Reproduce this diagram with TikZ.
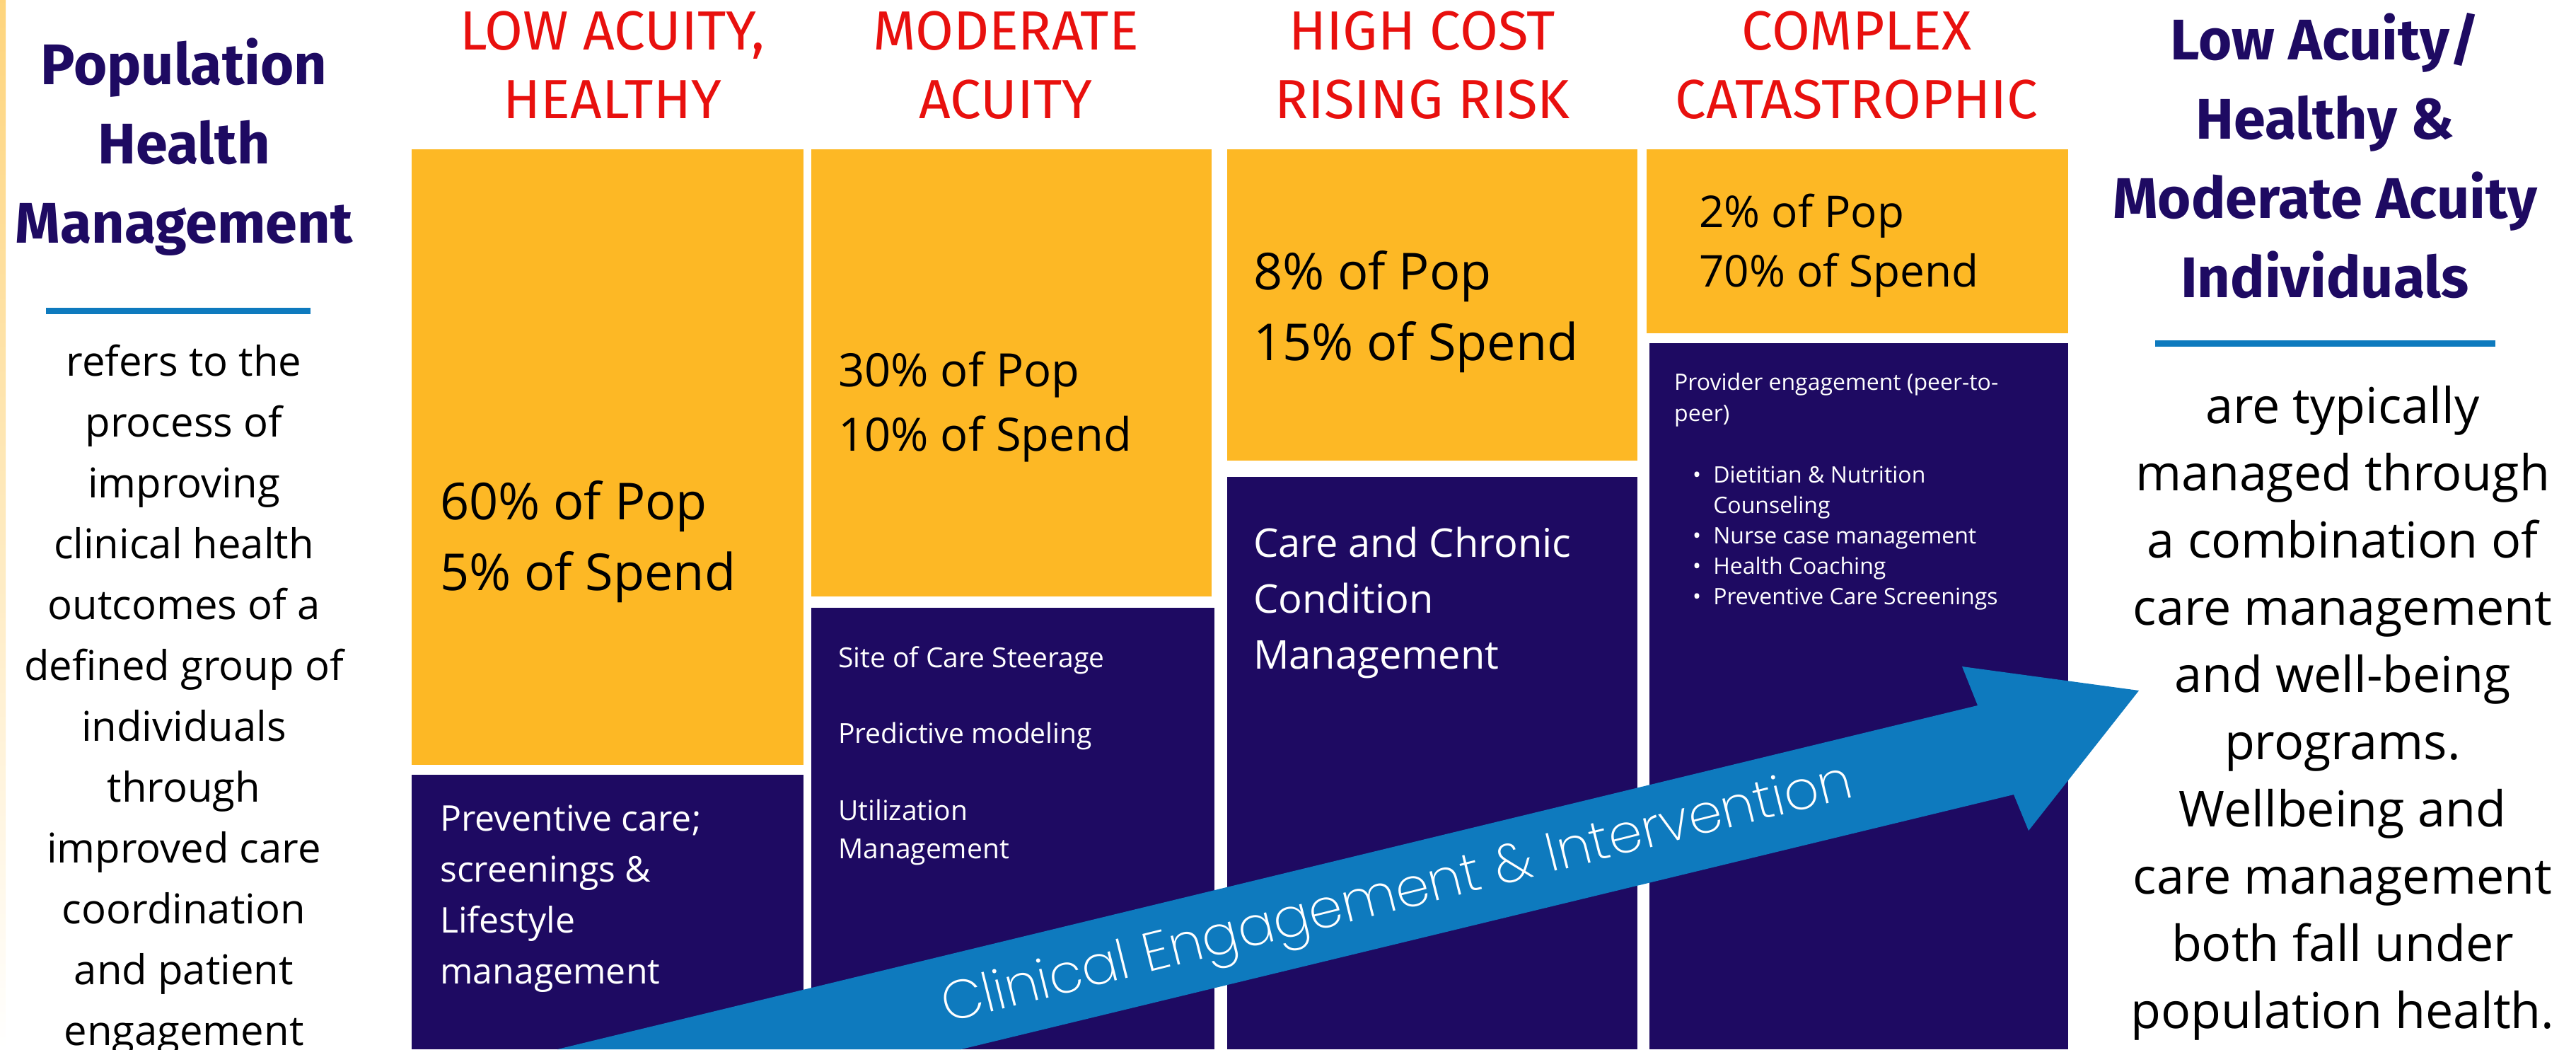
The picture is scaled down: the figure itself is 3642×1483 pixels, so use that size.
\documentclass[tikz,border=0pt]{standalone}
\usepackage{fontspec}
\setmainfont{Open Sans}
\newfontfamily\headfont{Fira Sans}
\newfontfamily\bannerfont{Poppins}[UprightFont=* ExtraLight]

\definecolor{popyellow}{HTML}{FDB825}
\definecolor{popnavy}{HTML}{1E0A62}
\definecolor{popblue}{HTML}{0E7ABE}
\definecolor{popred}{HTML}{E8100E}

\tikzset{
  colhead/.style={text=popred, align=center, inner sep=0pt,
    font=\headfont\fontsize{78}{97}\selectfont},
  sidetitle/.style={text=popnavy, align=center, inner sep=0pt,
    font=\headfont\bfseries\fontsize{81}{112}\selectfont},
  sidebody/.style={text=black, align=center, inner sep=0pt},
  share/.style={text=black, align=left, inner sep=0pt, anchor=west},
  program/.style={text=white, align=left, inner sep=0pt, anchor=west},
  rule/.style={popblue, line width=9pt}
}

\begin{document}
\begin{tikzpicture}[x=1pt,y=-1pt]
  \useasboundingbox (0,0) rectangle (3642,1483);

  % Edge strip
  \shade[top color=popyellow!60, bottom color=white] (0,0) rectangle (8,1483);

  % Yellow boxes
  \fill[popyellow] (582,211) rectangle (1136,1081);
  \fill[popyellow] (1147,211) rectangle (1713,843);
  \fill[popyellow] (1735,211) rectangle (2315,651);
  \fill[popyellow] (2328,211) rectangle (2924,471);

  % Navy boxes
  \fill[popnavy] (582,1095) rectangle (1136,1483);
  \fill[popnavy] (1147,859) rectangle (1717,1483);
  \fill[popnavy] (1735,674) rectangle (2315,1483);
  \fill[popnavy] (2332,485) rectangle (2924,1483);

  % Column heads
  \node[colhead] (headlow) at (866,92) {LOW ACUITY,\\HEALTHY};
  \node[colhead] (headmod) at (1422,92) {MODERATE\\ACUITY};
  \node[colhead] (headhigh) at (2011,92) {HIGH COST\\RISING RISK};
  \node[colhead] (headcomplex) at (2625,92) {COMPLEX\\CATASTROPHIC};

  % Share of population and spend
  \node[share, font=\fontsize{72}{100}\selectfont] (sharelow) at (622,766)
    {60\% of Pop\\5\% of Spend};
  \node[share, font=\fontsize{65}{91}\selectfont] (sharemod) at (1185,575)
    {30\% of Pop\\10\% of Spend};
  \node[share, font=\fontsize{72}{100}\selectfont] (sharehigh) at (1772,441)
    {8\% of Pop\\15\% of Spend};
  \node[share, font=\fontsize{62}{84}\selectfont] (sharecomplex) at (2402,347)
    {2\% of Pop\\70\% of Spend};

  % Programs
  \node[program, font=\fontsize{50}{72}\selectfont] (proglow) at (622,1270)
    {Preventive care;\\screenings \&\\Lifestyle\\management};
  \node[program, font=\fontsize{39}{54}\selectfont] (progmod) at (1185,1068)
    {Site of Care Steerage\\[53pt]Predictive modeling\\[55pt]Utilization\\Management};
  \node[program, font=\fontsize{56}{79}\selectfont] (proghigh) at (1772,852)
    {Care and Chronic\\Condition\\Management};
  \node[program, font=\fontsize{32}{44}\selectfont] (progpeer) at (2367,565)
    {Provider engagement (peer-to-\\peer)};
  \node[program, font=\fontsize{32}{43}\selectfont] (proglist) at (2393,760)
    {\begin{tabular}{@{}l@{\hspace{17pt}}l@{}}
      \textbullet & Dietitian \& Nutrition\\
                  & Counseling\\
      \textbullet & Nurse case management\\
      \textbullet & Health Coaching\\
      \textbullet & Preventive Care Screenings
    \end{tabular}};

  % Arrow
  \fill[popblue] (788,1483) -- (2796,997) -- (2774,942) -- (3024,976)
    -- (2868,1174) -- (2847,1123) -- (1359,1483) -- cycle;
  \node[text=white, rotate=14, inner sep=0pt,
    font=\bannerfont\fontsize{77}{80}\selectfont] (banner) at (1976,1268)
    {Clinical Engagement \& Intervention};

  % Left side
  \node[sidetitle] (phmtitle) at (260,208) {Population\\Health\\Management};
  \draw[rule] (65,439) -- (439,439);
  \node[sidebody, font=\fontsize{58}{86}\selectfont] (phmtext) at (260,989)
    {refers to the\\process of\\improving\\clinical health\\outcomes of a\\defined group of\\individuals\\through\\improved care\\coordination\\and patient\\engagement};

  % Right side
  \node[sidetitle] (lowtitle) at (3287,220)
    {Low Acuity/\\Healthy \&\\Moderate Acuity\\Individuals};
  \draw[rule] (3047,485) -- (3528,485);
  \node[sidebody, font=\fontsize{70}{95}\selectfont] (lowtext) at (3312,1008)
    {are typically\\managed through\\a combination of\\care management\\and well-being\\programs.\\Wellbeing and\\care management\\both fall under\\population health.};
\end{tikzpicture}
\end{document}
